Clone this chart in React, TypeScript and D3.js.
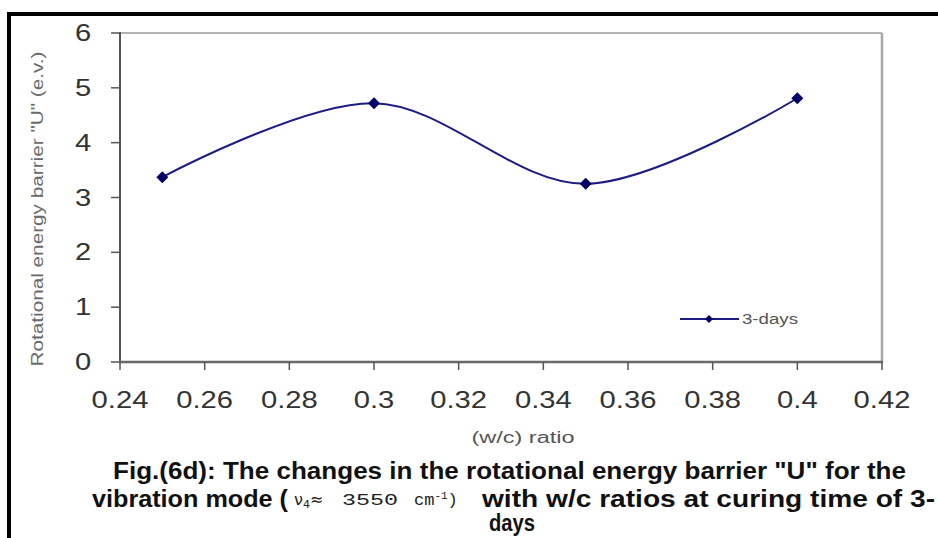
import React from "react";
import * as d3 from "d3";

const ratios = [0.25, 0.3, 0.35, 0.4];
const barrier3Days = [3.37, 4.72, 3.25, 4.81];
const xTicks = [0.24, 0.26, 0.28, 0.3, 0.32, 0.34, 0.36, 0.38, 0.4, 0.42];
const yTicks = [0, 1, 2, 3, 4, 5, 6];
const seriesName = "3-days";
const yTitle = 'Rotational energy barrier "U" (e.v.)';
const xTitle = "(w/c) ratio";
const captionLine1 = 'Fig.(6d): The changes in the rotational energy barrier "U" for the';
const captionLine2a = "vibration mode (";
const captionLine2c = "3550";
const captionLine2d = "cm";
const captionLine2e = "with w/c ratios at curing time of 3-";
const captionLine3 = "days";

const W = 938;
const H = 538;
const left = 120;
const right = 882;
const top = 33;
const bottom = 362;

export default function App() {
  const x = d3.scaleLinear().domain([0.24, 0.42]).range([left, right]);
  const y = d3.scaleLinear().domain([0, 6]).range([bottom, top]);
  const pts = ratios.map((r, i) => [x(r), y(barrier3Days[i])] as [number, number]);
  const line = d3.line().curve(d3.curveCardinal.tension(0))(pts) || "";
  const diamond = (cx: number, cy: number, r: number) =>
    `M${cx},${cy - r}L${cx + r},${cy}L${cx},${cy + r}L${cx - r},${cy}Z`;
  const sx = 1.27;
  const tickFont = "Liberation Sans, Arial, sans-serif";
  const capFont = "'Liberation Sans Narrow', 'Arial Narrow', 'Liberation Sans', Arial, sans-serif";
  const monoFont = "'Liberation Mono', 'DejaVu Sans Mono', monospace";

  return (
    <svg width={W} height={H} style={{ position: "absolute", left: 0, top: 0, background: "#fff" }}>
      {/* outer frame */}
      <line x1={7} y1={14} x2={938} y2={14} stroke="#000" strokeWidth={4} />
      <line x1={9} y1={12} x2={9} y2={538} stroke="#000" strokeWidth={4} />

      {/* plot area border */}
      <line x1={left} y1={top} x2={right} y2={top} stroke="#b4b4b4" strokeWidth={2} />
      <line x1={right} y1={top} x2={right} y2={bottom} stroke="#a8a8a8" strokeWidth={2.5} />

      {/* y axis */}
      <line x1={left} y1={top - 1} x2={left} y2={bottom} stroke="#555" strokeWidth={2} />
      {yTicks.map((t) => (
        <g key={"yt" + t}>
          <line x1={left - 9} y1={y(t)} x2={left} y2={y(t)} stroke="#555" strokeWidth={1.5} />
          <text
            transform={`translate(${83},${y(t) + 8}) scale(${sx},1)`}
            textAnchor="middle"
            fontFamily={tickFont}
            fontSize={23}
            fill="#333"
          >
            {t}
          </text>
        </g>
      ))}

      {/* x axis */}
      <line x1={left - 1} y1={bottom} x2={right + 1} y2={bottom} stroke="#6a6a6a" strokeWidth={2.5} />
      {xTicks.map((t) => (
        <g key={"xt" + t}>
          <line x1={x(t)} y1={bottom} x2={x(t)} y2={bottom + 8} stroke="#555" strokeWidth={1.5} />
          <text
            transform={`translate(${x(t)},${408}) scale(${sx},1)`}
            textAnchor="middle"
            fontFamily={tickFont}
            fontSize={23}
            fill="#333"
          >
            {String(t)}
          </text>
        </g>
      ))}

      {/* titles */}
      <text
        transform={`translate(${43},${209}) rotate(-90)`}
        textAnchor="middle"
        fontFamily={tickFont}
        fontSize={16}
        fill="#6a6a6a"
        textLength={315}
        lengthAdjust="spacingAndGlyphs"
      >
        {yTitle}
      </text>
      <text
        x={523}
        y={443}
        textAnchor="middle"
        fontFamily={tickFont}
        fontSize={16}
        fill="#555"
        textLength={103}
        lengthAdjust="spacingAndGlyphs"
      >
        {xTitle}
      </text>

      {/* series */}
      <path d={line} fill="none" stroke="#1c1c84" strokeWidth={2} />
      {pts.map(([px, py], i) => (
        <path key={"m" + i} d={diamond(px, py, 6)} fill="#000066" />
      ))}

      {/* legend */}
      <line x1={680} y1={319} x2={739} y2={319} stroke="#1c1c84" strokeWidth={2} />
      <path d={diamond(709, 319, 4)} fill="#000066" />
      <text
        x={742}
        y={324}
        fontFamily={tickFont}
        fontSize={14}
        fill="#555"
        textLength={56}
        lengthAdjust="spacingAndGlyphs"
      >
        {seriesName}
      </text>

      {/* caption */}
      <text
        x={113}
        y={479}
        fontFamily={capFont}
        fontWeight="bold"
        fontSize={23}
        fill="#111"
        textLength={793}
        lengthAdjust="spacingAndGlyphs"
      >
        {captionLine1}
      </text>
      <text
        x={92}
        y={507}
        fontFamily={capFont}
        fontWeight="bold"
        fontSize={23}
        fill="#111"
        textLength={196}
        lengthAdjust="spacingAndGlyphs"
      >
        {captionLine2a}
      </text>
      <text x={294} y={505} fontFamily="'DejaVu Sans', sans-serif" fontSize={16} fill="#222">
        ν
        <tspan fontSize={11} dy={3}>4</tspan>
        <tspan dy={-3} fontSize={16}>≈</tspan>
      </text>
      <text
        x={342}
        y={505}
        fontFamily={monoFont}
        fontSize={17}
        fill="#222"
        textLength={56}
        lengthAdjust="spacingAndGlyphs"
      >
        {captionLine2c}
      </text>
      <text x={414} y={505} fontFamily={monoFont} fontSize={17} fill="#222">
        {captionLine2d}
        <tspan fontSize={11} dy={-6}>-1</tspan>
        <tspan fontSize={17} dy={6}>)</tspan>
      </text>
      <text
        x={482}
        y={507}
        fontFamily={capFont}
        fontWeight="bold"
        fontSize={23}
        fill="#111"
        textLength={453}
        lengthAdjust="spacingAndGlyphs"
      >
        {captionLine2e}
      </text>
      <text
        x={512}
        y={531}
        textAnchor="middle"
        fontFamily={capFont}
        fontWeight="bold"
        fontSize={23}
        fill="#111"
        textLength={46}
        lengthAdjust="spacingAndGlyphs"
      >
        {captionLine3}
      </text>
    </svg>
  );
}
